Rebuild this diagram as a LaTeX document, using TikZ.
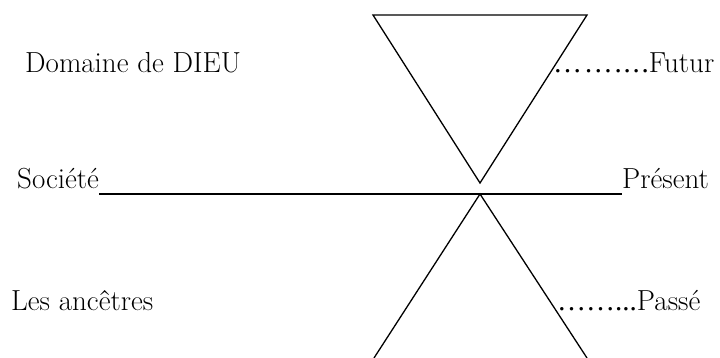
\documentclass[tikz,border=0pt]{standalone}
\usepackage{fontspec}
\newfontfamily\dotsfont{Liberation Serif}
\begin{document}
\begin{tikzpicture}[x=1pt,y=-1pt,
  lbl/.style={inner sep=0pt,font=\fontsize{29}{35}\selectfont},
  edge/.style={line width=1.3pt,line join=miter}]
\useasboundingbox (0,0) rectangle (720,358);
\clip (0,0) rectangle (720,358);
% upper triangle
\coordinate (tl) at (373,15);
\coordinate (tr) at (587,15);
\coordinate (apex) at (480,183);
\draw[edge] (tl) -- (tr) -- (apex) -- cycle;
% lower lines
\coordinate (ltop) at (480,194);
\coordinate (bl) at (374,358);
\coordinate (br) at (587,358);
\draw[edge] (bl) -- (ltop) -- (br);
% labels
\node[lbl,anchor=base west] (dieu) at (25,72.7) {Domaine de DIEU};
\node[lbl,anchor=base west] (futur) at (553,72.7) {{\dotsfont\addfontfeature{LetterSpace=6} ……....}Futur};
\node[lbl,anchor=base west] (societe) at (17,189) {Société};
\node[lbl,anchor=base west] (present) at (622,189) {Présent};
\node[lbl,anchor=base west] (ancetres) at (11,310) {Les ancêtres};
\node[lbl,anchor=base west] (passe) at (557,310) {{\dotsfont ……...}Passé};
% underline
\draw[line width=1.3pt] ([yshift=-5pt]societe.base east) -- ([yshift=-5pt]present.base west);
\end{tikzpicture}
\end{document}
